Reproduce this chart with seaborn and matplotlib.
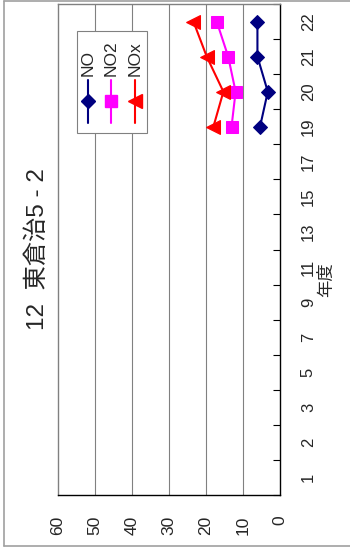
import matplotlib
matplotlib.use("Agg")
import matplotlib.pyplot as plt
from matplotlib.lines import Line2D
from matplotlib.patches import Rectangle
import seaborn as sns
import numpy as np
import pandas as pd

sns.set_theme(style="white")
plt.rcParams['font.family'] = ['Liberation Sans', 'Noto Sans CJK JP', 'DejaVu Sans']

# ---- data ----
years = ["1", "2", "3", "5", "7", "9", "11", "13", "15", "17", "19", "20", "21", "22"]
no_vals = [np.nan] * 10 + [5.4, 3.3, 6.1, 6.1]
no2_vals = [np.nan] * 10 + [13.1, 12.0, 14.0, 17.1]
nox_vals = [np.nan] * 10 + [18.0, 15.3, 19.8, 23.4]
series_names = ["NO", "NO2", "NOx"]
value_ticks = [0, 10, 20, 30, 40, 50, 60]
title = "12  東倉治5 - 2"
xlabel = "年度"

W, H = 350, 550
fig = plt.figure(figsize=(W / 100, H / 100), dpi=100)

def fx(px):
    return px / W

def fy(py):
    return 1 - py / H

# outer chart border (gray)
fig.add_artist(Line2D([fx(4), fx(4)], [fy(1), fy(546)], color="#a0a0a0", lw=1.2))
fig.add_artist(Line2D([fx(4), 1.0], [fy(546), fy(546)], color="#a0a0a0", lw=1.2))
fig.add_artist(Line2D([fx(4), 1.0], [fy(0.6), fy(0.6)], color="#a0a0a0", lw=1.2))

L, R, T, B = 58, 280, 4, 495
ax = fig.add_axes([fx(L), fy(B), fx(R - L), (B - T) / H])

pos = np.arange(len(years))
df = pd.DataFrame({"pos": pos, "NO": no_vals, "NO2": no2_vals, "NOx": nox_vals})

styles = {
    "NO": dict(color="#000080", marker="D", markersize=7.5),
    "NO2": dict(color="#FF00FF", marker="s", markersize=9),
    "NOx": dict(color="#FF0000", marker="<", markersize=10),
}

for name in series_names:
    st = styles[name]
    d = df[["pos", name]].dropna()
    sns.lineplot(data=d, x=name, y="pos", orient="y", ax=ax, color=st["color"],
                 marker=st["marker"], markersize=st["markersize"],
                 markeredgecolor=st["color"], markerfacecolor=st["color"],
                 linewidth=1.5, sort=False, estimator=None, legend=False)

ax.set_xlim(60, 0)
ax.set_ylim(-0.5, len(years) - 0.5)
ax.set_xticks(value_ticks)
ax.set_xticklabels([str(v) for v in value_ticks], rotation=90, fontsize=12.5)
ax.set_yticks(pos)
ax.set_yticklabels(years, rotation=90, fontsize=12, va="center")
ax.yaxis.tick_right()
ax.tick_params(axis="y", which="major", length=0, pad=15)
ax.tick_params(axis="x", which="major", length=0, pad=15)
ax.set_yticks(np.arange(-0.5, len(years)), minor=True)
ax.tick_params(axis="y", which="minor", direction="in", length=5, color="black",
               right=True, left=False, width=0.8)
ax.set_xlabel("")
ax.set_ylabel("")

for v in value_ticks[1:-1]:
    ax.axvline(v, color="#808080", lw=0.8, zorder=0)

ax.spines["top"].set_color("#808080")
ax.spines["left"].set_color("#808080")
ax.spines["right"].set_color("black")
ax.spines["bottom"].set_color("black")
for s in ax.spines.values():
    s.set_linewidth(1.0)
    s.set_visible(True)

# legend (drawn rotated)
fig.add_artist(Rectangle((fx(77), fy(133)), fx(147) - fx(77), fy(31) - fy(133),
                         facecolor="white", edgecolor="#808080", lw=0.8, zorder=5))
lx = {"NO": 88, "NO2": 111, "NOx": 135}
for name in series_names:
    st = styles[name]
    x = fx(lx[name])
    fig.add_artist(Line2D([x, x], [fy(80), fy(123)], color=st["color"], lw=1.5, zorder=6))
    fig.add_artist(Line2D([x], [fy(101)], color=st["color"], marker=st["marker"],
                          markersize=st["markersize"] * 0.95, markerfacecolor=st["color"],
                          markeredgecolor=st["color"], zorder=7))
    fig.text(x, fy(76), name, rotation=90, ha="center", va="bottom", fontsize=12.5, zorder=8)

fig.text(fx(38), fy(249), title, rotation=90, ha="center", va="center", fontsize=17.5)
fig.text(fx(326), fy(280), xlabel, rotation=90, ha="center", va="center", fontsize=12.5)

fig.savefig("out.png", dpi=100)
